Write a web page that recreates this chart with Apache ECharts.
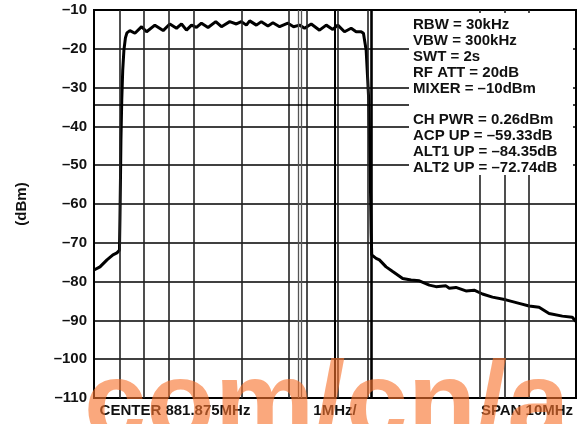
<!DOCTYPE html>
<html lang="en">
  <head>
    <meta charset="UTF-8">
    <title>ACP spectrum</title>
    <script src="https://cdn.jsdelivr.net/npm/echarts@6.0.0/dist/echarts.min.js"></script>
    <style>
      html, body { margin: 0; padding: 0; background: #fff; }
    </style>
  </head>
  <body>
    <div id="main" style="width: 578px;height:424px;"></div>
    <script type="text/javascript">
      // Trace: offset from center (MHz) and level (dBm)
      const freqMHz = [
        -5.00, -4.876, -4.731, -4.607, -4.524, -4.472, -4.462, -4.451, -4.441, -4.424,
        -4.404, -4.379, -4.348, -4.317, -4.255, -4.151, -4.012, -3.909, -3.737, -3.565,
        -3.427, -3.288, -3.184, -3.081, -2.977, -2.874, -2.770, -2.634, -2.474, -2.356,
        -2.184, -2.046, -1.942, -1.839, -1.770, -1.631, -1.528, -1.391, -1.288, -1.149,
        -0.977, -0.859, -0.735, -0.631, -0.493, -0.321, -0.182, -0.046, 0.058, 0.197,
        0.335, 0.439, 0.542, 0.590, 0.646, 0.679, 0.700, 0.729, 0.750, 0.762,
        0.853, 0.921, 1.060, 1.197, 1.404, 1.578, 1.749, 1.957, 2.095, 2.302,
        2.371, 2.509, 2.716, 2.888, 3.060, 3.267, 3.545, 3.820, 4.027, 4.234,
        4.441, 4.717, 4.923, 5.00
      ];
      const levelDbm = [
        -77.0, -76.2, -74.4, -73.1, -72.6, -71.9, -64.1, -53.8, -43.5, -33.2,
        -25.5, -20.3, -17.2, -15.9, -15.3, -16.0, -14.3, -15.6, -13.9, -15.3,
        -13.6, -14.7, -13.6, -15.2, -13.9, -14.5, -13.4, -14.5, -13.0, -14.3,
        -13.0, -13.6, -13.0, -13.9, -12.8, -13.9, -13.0, -14.1, -13.3, -14.3,
        -13.4, -14.3, -13.9, -14.7, -13.6, -15.2, -13.9, -15.0, -13.9, -15.6,
        -14.7, -15.6, -15.6, -16.0, -20.3, -28.0, -33.2, -50.5, -67.5, -73.1,
        -74.0, -74.4, -76.2, -77.4, -79.2, -79.6, -79.8, -80.9, -81.3, -81.1,
        -81.7, -81.5, -82.4, -82.2, -83.2, -84.0, -84.7, -85.6, -86.3, -86.6,
        -88.2, -88.9, -89.2, -90.3
      ];

      // Vertical grid / channel marker lines (MHz offset) and the extra level line (dBm)
      const vGridMHz = [
        -4.462, -3.959, -3.447, -2.944, -1.936, -0.957, -0.584,
        0.046, 0.679, 3.006, 3.524, 4.012
      ];
      const doubleGridMHz = [-0.756, -0.714];
      const heavyGridMHz = [0.750];
      const refLevelDbm = [-34.5];

      const settingsText = [
        'RBW = 30kHz', 'VBW = 300kHz', 'SWT = 2s', 'RF ATT = 20dB', 'MIXER = \u201310dBm'
      ];
      const resultText = [
        'CH PWR = 0.26dBm', 'ACP UP = \u201359.33dB', 'ALT1 UP = \u201384.35dB', 'ALT2 UP = \u201372.74dB'
      ];
      const bottomText = ['CENTER 881.875MHz', '1MHz/', 'SPAN 10MHz'];

      const font = '"Liberation Sans", Arial, Helvetica, sans-serif';
      let myChart = echarts.init(document.getElementById('main'));

      const textLines = [];
      settingsText.forEach((t, i) => textLines.push({ t: t, y: 25 + i * 16 }));
      resultText.forEach((t, i) => textLines.push({ t: t, y: 120 + i * 16 }));

      let options = {
        animation: false,
        grid: {
          left: 94, right: 2, top: 10, bottom: 26,
          show: true, borderColor: '#000', borderWidth: 2
        },
        xAxis: {
          type: 'value', min: -5, max: 5,
          axisLine: { show: false },
          axisTick: { show: false },
          axisLabel: { show: false },
          splitLine: { show: false }
        },
        yAxis: {
          type: 'value', min: -110, max: -10, interval: 10,
          name: '(dBm)',
          nameLocation: 'middle',
          nameGap: 65,
          nameTextStyle: { fontFamily: font, fontWeight: 'bold', fontSize: 15, color: '#111' },
          axisLine: { show: true, lineStyle: { color: '#000', width: 2 } },
          axisTick: { show: false },
          axisLabel: {
            margin: 7,
            fontFamily: font, fontWeight: 'bold', fontSize: 15, color: '#111',
            formatter: v => (v < 0 ? '\u2013' + Math.abs(v) : String(v))
          },
          splitLine: { show: true, lineStyle: { color: '#000', width: 1.5 } }
        },
        series: [
          {
            // carrier for the grid marker lines, drawn under the trace
            type: 'line',
            data: [],
            z: 1,
            silent: true,
            markLine: {
              silent: true,
              symbol: ['none', 'none'],
              label: { show: false },
              lineStyle: { color: '#222', width: 1.6, type: 'solid' },
              data: vGridMHz.map(v => ({ xAxis: v }))
                .concat(doubleGridMHz.map(v => ({ xAxis: v, lineStyle: { color: '#555', width: 1.3 } })))
                .concat(heavyGridMHz.map(v => ({ xAxis: v, lineStyle: { color: '#000', width: 2.6 } })))
                .concat(refLevelDbm.map(v => ({ yAxis: v, lineStyle: { color: '#000', width: 1.5 } })))
            }
          },
          {
            type: 'line',
            z: 3,
            showSymbol: false,
            data: freqMHz.map((f, i) => [f, levelDbm[i]]),
            lineStyle: { color: '#000', width: 3 }
          }
        ],
        graphic: [
          {
            type: 'rect', z: 100,
            shape: { x: 409, y: 13, width: 164, height: 162 },
            style: { fill: '#fff' }
          },
          ...textLines.map(l => ({
            type: 'text', z: 101, left: 413, top: l.y - 8,
            style: { text: l.t, font: 'bold 15px ' + font, fill: '#111' }
          })),
          {
            type: 'text', z: 101, x: 175, y: 411,
            style: { text: bottomText[0], font: 'bold 15px ' + font, fill: '#111', align: 'center', verticalAlign: 'middle' }
          },
          {
            type: 'text', z: 101, x: 335, y: 411,
            style: { text: bottomText[1], font: 'bold 15px ' + font, fill: '#111', align: 'center', verticalAlign: 'middle' }
          },
          {
            type: 'text', z: 101, x: 527, y: 411,
            style: { text: bottomText[2], font: 'bold 15px ' + font, fill: '#111', align: 'center', verticalAlign: 'middle' }
          },
          {
            // site watermark
            type: 'text', z: 200, x: 84, y: 352,
            style: { text: 'com/cn/a', font: 'bold 112px ' + font, fill: 'rgba(247,115,45,0.62)', verticalAlign: 'top' }
          }
        ]
      };

      myChart.setOption(options);
    </script>
  </body>
</html>
